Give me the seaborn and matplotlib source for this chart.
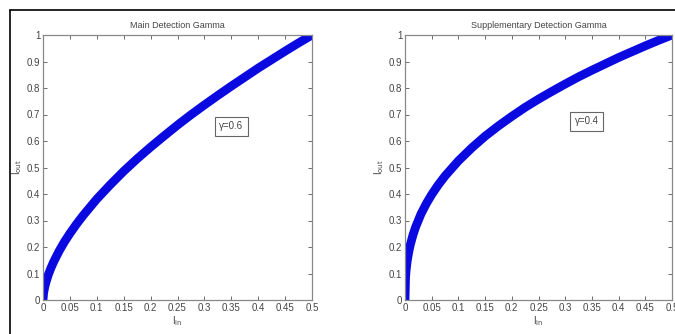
import numpy as np
import pandas as pd
import matplotlib
matplotlib.use("Agg")
import matplotlib.pyplot as plt
from matplotlib.lines import Line2D
import seaborn as sns

# Values
i_in = [0.0, 0.001, 0.002, 0.0035, 0.005, 0.0075, 0.01, 0.015, 0.02, 0.03, 0.04,
        0.05, 0.0625, 0.075, 0.1, 0.125, 0.15, 0.175, 0.2, 0.225, 0.25, 0.275,
        0.3, 0.325, 0.35, 0.375, 0.4, 0.425, 0.45, 0.475, 0.5]
i_out_main = [0.0, 0.024, 0.036, 0.051, 0.063, 0.080, 0.096, 0.122, 0.145, 0.185,
              0.220, 0.251, 0.287, 0.320, 0.381, 0.435, 0.486, 0.533, 0.577,
              0.619, 0.660, 0.699, 0.736, 0.772, 0.807, 0.841, 0.875, 0.907,
              0.939, 0.970, 1.0]
i_out_supp = [0.0, 0.083, 0.110, 0.137, 0.158, 0.186, 0.209, 0.246, 0.276, 0.325,
              0.364, 0.398, 0.435, 0.468, 0.525, 0.574, 0.618, 0.657, 0.693,
              0.727, 0.758, 0.787, 0.815, 0.842, 0.867, 0.891, 0.915, 0.937,
              0.959, 0.980, 1.0]
titles = ["Main Detection Gamma", "Supplementary Detection Gamma"]
gamma_labels = ["\u03b3=0.6", "\u03b3=0.4"]
x_ticks = [0, 0.05, 0.1, 0.15, 0.2, 0.25, 0.3, 0.35, 0.4, 0.45, 0.5]
x_ticklabels = ["0", "0.05", "0.1", "0.15", "0.2", "0.25", "0.3", "0.35", "0.4", "0.45", "0.5"]
y_ticks = [0, 0.1, 0.2, 0.3, 0.4, 0.5, 0.6, 0.7, 0.8, 0.9, 1]
y_ticklabels = ["0", "0.1", "0.2", "0.3", "0.4", "0.5", "0.6", "0.7", "0.8", "0.9", "1"]

sns.set_theme(style="white")
plt.rcParams['font.family'] = ['Liberation Sans Narrow', 'Liberation Sans', 'DejaVu Sans']
txt = "#444444"

fig = plt.figure(figsize=(6.75, 3.34), dpi=100)
axes = [fig.add_axes([43/675, 34/334, 269/675, 265/334]),
        fig.add_axes([405/675, 34/334, 267/675, 265/334])]
series = [i_out_main, i_out_supp]
box_pos = [(0.35, 0.655), (0.34, 0.675)]

for ax, ys, title, glab, bp in zip(axes, series, titles, gamma_labels, box_pos):
    df = pd.DataFrame({"Iin": i_in, "Iout": ys})
    sns.lineplot(data=df, x="Iin", y="Iout", ax=ax, color="#0a0ae0",
                 linewidth=6.3, solid_capstyle="butt", solid_joinstyle="round")
    ax.set_xlim(0, 0.5)
    ax.set_ylim(0, 1)
    ax.set_xticks(x_ticks)
    ax.set_xticklabels(x_ticklabels)
    ax.set_yticks(y_ticks)
    ax.set_yticklabels(y_ticklabels)
    ax.tick_params(direction="in", length=3, width=0.6, color="#555555",
                   labelsize=7, labelcolor=txt, top=True, right=True,
                   bottom=True, left=True, pad=2)
    for s in ax.spines.values():
        s.set_color("#888888")
        s.set_linewidth(0.9)
    ax.set_title(title, fontsize=6.5, color=txt, pad=5)
    ax.set_xlabel("I$_{\\mathrm{in}}$", fontsize=7, color=txt, labelpad=1)
    ax.set_ylabel("I$_{\\mathrm{out}}$", fontsize=7, color=txt, labelpad=2)
    ax.text(bp[0], bp[1], glab, fontsize=7, color=txt, ha="center", va="center",
            bbox=dict(boxstyle="square,pad=0.45", fc="white", ec="#666666", lw=0.8))

# figure frame lines
fig.add_artist(Line2D([9.5/675, 9.5/675], [0, 1 - 10/334], color="black", lw=1.2))
fig.add_artist(Line2D([9.5/675, 1], [1 - 10/334, 1 - 10/334], color="black", lw=1.2))

fig.savefig("out.png", dpi=100)
